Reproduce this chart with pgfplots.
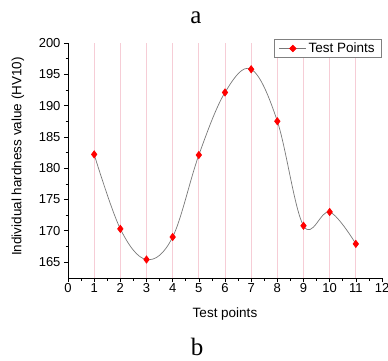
\documentclass[border=0pt]{standalone}
\usepackage{pgfplots}
\pgfplotsset{compat=1.18}
\usepackage{fontspec}
\setmainfont{Liberation Sans}
\newfontfamily\seriffont{Liberation Serif}
\definecolor{gridpink}{RGB}{246,205,214}
\definecolor{curvegray}{RGB}{120,120,120}
\begin{document}
\begin{tikzpicture}[x=1pt,y=1pt]
\path[use as bounding box] (0,0) rectangle (388,360);
\node[font=\seriffont\fontsize{25}{25}\selectfont, anchor=base, inner sep=0pt] at (196,337) {a};
\node[font=\seriffont\fontsize{25}{25}\selectfont, anchor=base, inner sep=0pt] at (197,5) {b};
\begin{axis}[
  at={(68pt,82pt)}, anchor=south west,
  scale only axis, width=314pt, height=235pt,
  xmin=0, xmax=12, ymin=162.45, ymax=200,
  axis x line*=bottom, axis y line*=left,
  xtick={0,1,...,12}, ytick={165,170,...,200},
  minor x tick num=1, minor y tick num=1,
  tick align=outside, major tick length=4pt, minor tick length=2.5pt,
  tick style={black, line width=0.6pt},
  axis line style={black, line width=0.8pt},
  /pgf/number format/assume math mode=true,
  ticklabel style={font=\fontsize{13}{13}\selectfont},
  xticklabel style={yshift=2pt},
  xlabel={Test points}, ylabel={Individual hardness value (HV10)},
  label style={font=\fontsize{13.5}{13.5}\selectfont},
  xlabel style={at={(axis description cs:0.5,-0.17)}, anchor=base},
  ylabel style={at={(axis description cs:-0.16,0.517)}, anchor=center},
  legend style={at={(axis description cs:1,1.017)}, anchor=north east,
    draw=gray, line width=0.6pt, font=\fontsize{13.5}{13.5}\selectfont,
    inner xsep=5pt, inner ysep=1.5pt},
  legend cell align=left,
  legend image code/.code={
    \draw[curvegray, line width=0.6pt] (0pt,0pt) -- (27pt,0pt);
    \fill[red] (13.5pt,3.3pt) -- (16.8pt,0pt) -- (13.5pt,-3.3pt) -- (10.2pt,0pt) -- cycle;
  },
  clip=false,
]
\pgfplotsinvokeforeach{1,...,11}{
  \draw[gridpink, line width=0.7pt] (axis cs:#1,162.45) -- (axis cs:#1,200);
}
\addplot[curvegray, line width=0.7pt, smooth, tension=0.6,
  mark=diamond*, mark size=3.6pt, mark options={draw=red, fill=red}]
  table {
x y
1 182.2
2 170.3
3 165.4
4 169.0
5 182.1
6 192.1
7 195.8
8 187.5
9 170.8
10 173.0
11 167.9
};
\addlegendentry{Test Points}
\end{axis}
\end{tikzpicture}
\end{document}
